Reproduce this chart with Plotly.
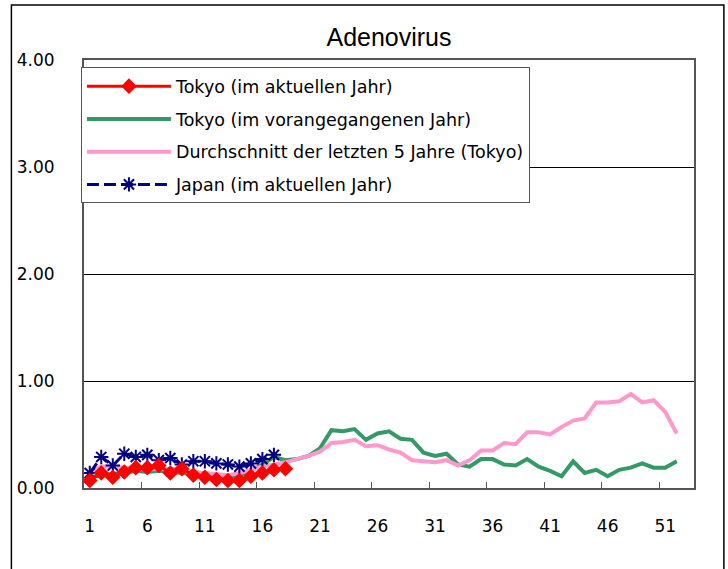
import plotly.graph_objects as go

# weekly values
weeks = list(range(1, 53))
label_weeks = [1, 6, 11, 16, 21, 26, 31, 36, 41, 46, 51]
y_ticks = [0, 1, 2, 3, 4]

tokyo_current = [0.07, 0.14, 0.10, 0.15, 0.19, 0.19, 0.21, 0.14, 0.18, 0.12,
                 0.10, 0.08, 0.07, 0.07, 0.11, 0.14, 0.17, 0.18]

tokyo_previous = [0.10, 0.12, 0.13, 0.14, 0.16, 0.15, 0.16, 0.15, 0.14, 0.13,
                  0.12, 0.11, 0.10, 0.12, 0.16, 0.22, 0.29, 0.26, 0.27, 0.30,
                  0.37, 0.54, 0.53, 0.55, 0.45, 0.51, 0.53, 0.46, 0.45, 0.33,
                  0.30, 0.32, 0.22, 0.20, 0.27, 0.27, 0.22, 0.21, 0.27, 0.20,
                  0.16, 0.11, 0.25, 0.14, 0.17, 0.11, 0.17, 0.19, 0.23, 0.19,
                  0.19, 0.25]

five_year_avg = [0.15, 0.20, 0.20, 0.19, 0.19, 0.17, 0.18, 0.18, 0.17, 0.15,
                 0.14, 0.13, 0.12, 0.14, 0.17, 0.20, 0.22, 0.24, 0.27, 0.30,
                 0.34, 0.42, 0.43, 0.45, 0.39, 0.40, 0.36, 0.33, 0.26, 0.25,
                 0.24, 0.26, 0.21, 0.26, 0.35, 0.35, 0.42, 0.41, 0.52, 0.52,
                 0.50, 0.57, 0.63, 0.65, 0.80, 0.80, 0.81, 0.88, 0.80, 0.82,
                 0.71, 0.51]

japan_current = [0.14, 0.29, 0.21, 0.32, 0.29, 0.31, 0.26, 0.28, 0.22, 0.25,
                 0.25, 0.23, 0.22, 0.20, 0.23, 0.27, 0.31]

fig = go.Figure()

# previous year and 5-year average go underneath the current-year series
fig.add_trace(go.Scatter(
    x=weeks, y=tokyo_previous,
    name='Tokyo (im vorangegangenen Jahr)', legendgroup='b', legendrank=2,
    mode='lines',
    line=dict(color='#339966', width=4)
))
fig.add_trace(go.Scatter(
    x=weeks, y=five_year_avg,
    name='Durchschnitt der letzten 5 Jahre (Tokyo)', legendgroup='c', legendrank=3,
    mode='lines',
    line=dict(color='#ff99cc', width=4)
))
fig.add_trace(go.Scatter(
    x=weeks[:len(japan_current)], y=japan_current,
    name='Japan (im aktuellen Jahr)', legendgroup='d', legendrank=4,
    mode='lines+markers',
    line=dict(color='#000080', width=3, dash='12px,5px'),
    marker=dict(symbol='asterisk-open', size=12, color='#000080',
                line=dict(color='#000080', width=2))
))
fig.add_trace(go.Scatter(
    x=weeks[:len(tokyo_current)], y=tokyo_current,
    name='Tokyo (im aktuellen Jahr)', legendgroup='a', legendrank=1,
    mode='lines+markers',
    line=dict(color='#ff0000', width=3),
    marker=dict(symbol='diamond', size=12, color='#ff0000')
))

fig.update_layout(
    width=728, height=569,
    margin=dict(l=84, r=34, t=60, b=81),
    paper_bgcolor='white', plot_bgcolor='white',
    font=dict(family='DejaVu Sans', color='#000000'),
    title=dict(text='Adenovirus', x=0.5, xref='paper', xanchor='center',
               y=1 - 37 / 569, yanchor='middle',
               font=dict(family='Liberation Sans', size=25, color='#000000')),
    showlegend=True,
    legend=dict(x=-0.005, y=0.983, xanchor='left', yanchor='top',
                bgcolor='white', bordercolor='#555555', borderwidth=1,
                font=dict(family='DejaVu Sans', size=17.5),
                itemwidth=84,
                tracegroupgap=7, traceorder='grouped'),
    xaxis=dict(range=[0.5, 53.5], tickvals=label_weeks,
               ticktext=[str(w) for w in label_weeks],
               ticks='inside', ticklen=0.1, tickcolor='rgba(0,0,0,0)',
               showgrid=False, zeroline=False,
               showline=True, linecolor='#555555', linewidth=2, mirror=True,
               tickfont=dict(size=17), ticklabelstandoff=22,
               minor=dict(tick0=0.5, dtick=5, ticks='inside', ticklen=6,
                          tickcolor='#555555', tickwidth=1, showgrid=False)),
    yaxis=dict(range=[0, 4], tickvals=y_ticks,
               ticktext=[f'{v:.2f}' for v in y_ticks],
               ticks='', showgrid=True, gridcolor='#000000', gridwidth=1,
               zeroline=False, showline=True, linecolor='#555555', linewidth=2,
               mirror=True, tickfont=dict(size=17), ticklabelstandoff=24),
)

# outer chart frame
fig.add_shape(type='rect', xref='paper', yref='paper',
              x0=-0.119, x1=1.049, y0=-0.25, y1=1.1285,
              line=dict(color='#000000', width=1.5), fillcolor='rgba(0,0,0,0)',
              layer='below')

# drop the default page margin so the figure sits at the window's corner
fig.write_html('out.html', config={'displayModeBar': False},
               post_script="document.body.style.margin='0';")
